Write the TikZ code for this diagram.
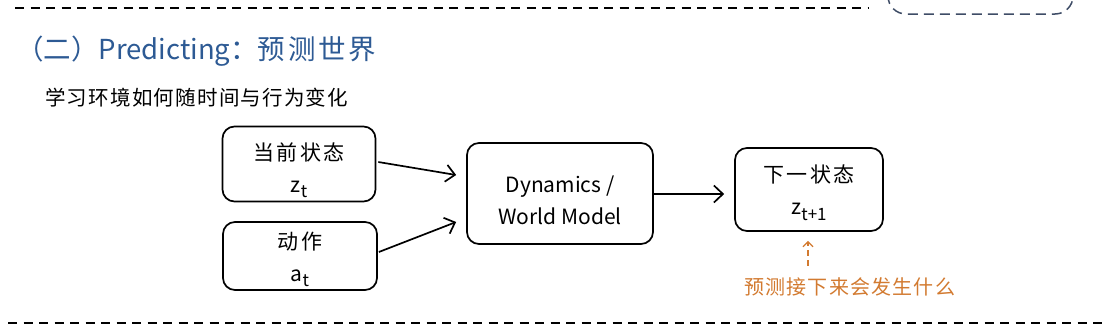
\documentclass[tikz,border=0pt]{standalone}
\usepackage{fontspec}
\setmainfont{Noto Sans CJK SC}
\newfontfamily\spacedA[LetterSpace=10]{Noto Sans CJK SC}
\newfontfamily\spacedB[LetterSpace=6]{Noto Sans CJK SC}
\usetikzlibrary{arrows.meta,calc}
\definecolor{titleblue}{HTML}{2D5A94}
\definecolor{noteorange}{HTML}{D27A30}
\definecolor{boxgray}{HTML}{3E4C66}
\newcommand\mysub[1]{\raisebox{-0.5ex}{\fontsize{17}{17}\selectfont\itshape #1}}
\newcommand\toppad[1]{\rule{0pt}{#1}}
\tikzset{
  box/.style={draw=black, line width=1.7pt, rounded corners=12pt, align=center,
    font=\fontsize{21}{32}\selectfont, inner sep=0pt},
  arr/.style={line width=1.7pt, -{Straight Barb[length=9pt,width=17pt,line width=1.7pt]}},
  sep/.style={line width=1.5pt, dash pattern=on 9pt off 6.5pt},
  notearr/.style={noteorange, line width=1.4pt, dash pattern=on 6pt off 4pt,
    -{Straight Barb[length=5pt,width=10pt,line width=1.3pt]}}
}
\begin{document}
\begin{tikzpicture}[x=1pt,y=-1pt]
\useasboundingbox (0,0) rectangle (1116,335);
\begin{scope}
\clip (0,0) rectangle (1116,335);
\draw[boxgray, line width=1.5pt, dash pattern=on 10pt off 6pt, rounded corners=18pt]
  (888,-40) rectangle (1073,14);
\end{scope}
\draw[sep] (15,8) -- (868,8);
\draw[sep] (8,323) -- (1105,323);

\node[anchor=west, text=titleblue, font=\fontsize{27.5}{30}\selectfont, inner sep=0pt]
  (title) at (16,51) {（二）Predicting：{\spacedA 预测世界}};
\node[anchor=west, font=\fontsize{20.5}{24}\selectfont\spacedB, inner sep=0pt]
  (sub) at (45,98) {学习环境如何随时间与行为变化};

\node[box, minimum width=153pt, minimum height=75pt] (b1) at (299,164)
  {\toppad{30pt}{\spacedA 当前状态}\\z\mysub{t}};
\node[box, minimum width=154pt, minimum height=68pt] (b2) at (300,256)
  {\toppad{24pt}{\spacedA 动作}\\a\mysub{t}};
\node[box, minimum width=186pt, minimum height=101pt] (b3) at (560,193.5)
  {\toppad{30pt}Dynamics /\\World Model};
\node[box, minimum width=148pt, minimum height=83pt] (b4) at (809,189.5)
  {\toppad{24pt}{\spacedA 下一状态}\\z\mysub{t+1}};

\draw[arr] ($(b1.east)+(2,-2)$) -- ($(b3.west)+(-10,-18.5)$);
\draw[arr] ($(b2.east)+(1,-4)$) -- ($(b3.west)+(-10,28.5)$);
\draw[arr] ($(b3.east)+(0,0.5)$) -- ($(b4.west)+(-10,4.5)$);

\node[anchor=west, text=noteorange, font=\fontsize{20}{24}\selectfont\spacedB, inner sep=0pt]
  (note) at (744,287) {预测接下来会发生什么};
\draw[notearr] ($(b4.south)+(-1,34)$) -- ($(b4.south)+(-1,9)$);
\end{tikzpicture}
\end{document}
